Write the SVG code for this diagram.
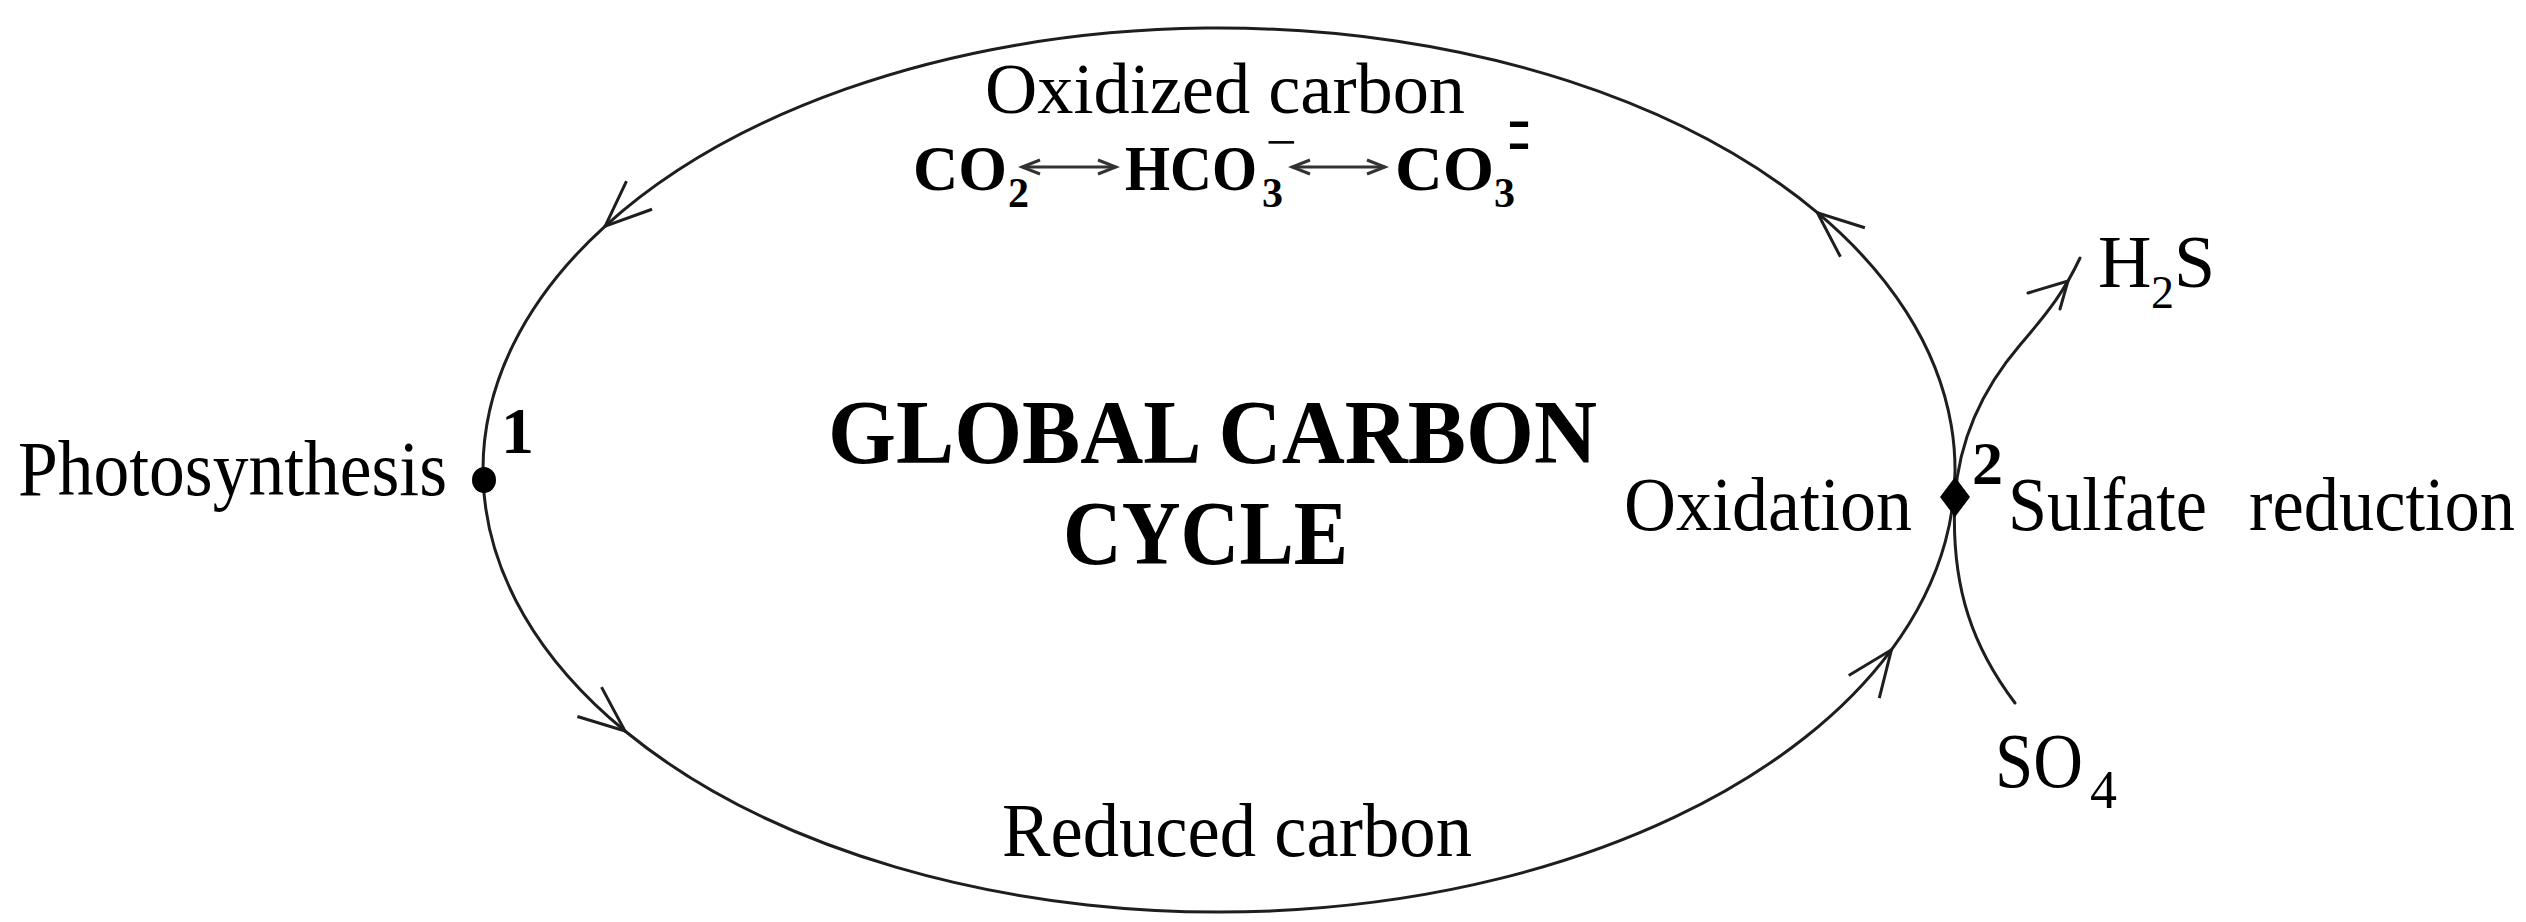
<svg xmlns="http://www.w3.org/2000/svg" width="2526" height="922" viewBox="0 0 2526 922">
<style>
  text { font-family: "Liberation Serif", "Times New Roman", serif; fill: #000; }
  .b { font-weight: bold; }
  .line { fill: none; stroke: #1e1e1e; stroke-width: 3; stroke-linecap: round; }
  .thin { fill: none; stroke: #333; stroke-width: 3; }
  .dot { fill: #000; }
</style>
<defs>
  <marker id="vhead" markerUnits="userSpaceOnUse" viewBox="-52 -26 56 52" markerWidth="56" markerHeight="52" refX="0" refY="0" orient="auto">
    <path d="M -46 -19 L 0 0 L -46 19" fill="none" stroke="#1e1e1e" stroke-width="3"/>
  </marker>
  <marker id="chev" markerUnits="userSpaceOnUse" viewBox="-24 -12 28 24" markerWidth="28" markerHeight="24" refX="0" refY="0" orient="auto-start-reverse">
    <path d="M -18 -7 L 0 0 L -18 7" fill="none" stroke="#333" stroke-width="3"/>
  </marker>
</defs>
<rect width="2526" height="922" fill="#fff"/>

<g id="connectors">
  <path class="line" d="M 1817.4,212.7 A 736 442 0 0 0 605.2,226.1" marker-end="url(#vhead)"/>
  <path class="line" d="M 605.2,226.1 A 736 442 0 0 0 625.0,731.0" marker-end="url(#vhead)"/>
  <path class="line" d="M 625.0,731.0 A 736 442 0 0 0 1891.4,649.8" marker-end="url(#vhead)"/>
  <path class="line" d="M 1891.4,649.8 A 736 442 0 0 0 1817.4,212.7" marker-end="url(#vhead)"/>
  <path class="line" d="M 2015,703 C 1975,650 1950,590 1955,497 C 1960,430 1990,380 2020,345 S 2065,290 2080,258"/>
  <polyline class="line" points="2028,293 2068,281 2060,309"/>
  <line class="thin" x1="1022" y1="167" x2="1116" y2="167" marker-start="url(#chev)" marker-end="url(#chev)"/>
  <line class="thin" x1="1292" y1="167" x2="1385" y2="167" marker-start="url(#chev)" marker-end="url(#chev)"/>
</g>

<g id="oxidized-carbon">
  <text x="985" y="113" font-size="72" textLength="480" lengthAdjust="spacingAndGlyphs">Oxidized carbon</text>
  <text class="b" font-size="64">
    <tspan x="913" y="190" textLength="94" lengthAdjust="spacingAndGlyphs">CO</tspan><tspan x="1008" y="207" font-size="42">2</tspan><tspan x="1125" y="190" textLength="132" lengthAdjust="spacingAndGlyphs">HCO</tspan><tspan x="1262" y="207" font-size="42">3</tspan><tspan x="1266" y="160" font-size="53" font-weight="normal" textLength="31" lengthAdjust="spacingAndGlyphs">−</tspan><tspan x="1395" y="190" textLength="99" lengthAdjust="spacingAndGlyphs">CO</tspan><tspan x="1494" y="207" font-size="42">3</tspan><tspan x="1508" y="172" font-size="110" font-weight="normal" textLength="22" lengthAdjust="spacingAndGlyphs">=</tspan>
  </text>
</g>

<g id="title">
  <text class="b" x="828" y="463" font-size="90" textLength="769" lengthAdjust="spacingAndGlyphs">GLOBAL CARBON</text>
  <text class="b" x="1063" y="564" font-size="90" textLength="285" lengthAdjust="spacingAndGlyphs">CYCLE</text>
</g>

<g id="photosynthesis">
  <ellipse class="dot" cx="484" cy="480" rx="12" ry="13"/>
  <text class="b" x="501" y="453" font-size="66">1</text>
  <text x="18" y="495" font-size="78" textLength="429" lengthAdjust="spacingAndGlyphs">Photosynthesis</text>
</g>

<g id="oxidation-sulfate-reduction">
  <path class="dot" d="M 1955,477 L 1970,497 L 1955,517 L 1940,497 Z"/>
  <text class="b" x="1972" y="484" font-size="62">2</text>
  <text x="1624" y="530" font-size="76" textLength="288" lengthAdjust="spacingAndGlyphs">Oxidation</text>
  <text font-size="76"><tspan x="2008" y="530" textLength="199" lengthAdjust="spacingAndGlyphs">Sulfate</tspan><tspan x="2249" y="530" textLength="266" lengthAdjust="spacingAndGlyphs">reduction</tspan></text>
</g>

<g id="h2s">
  <text font-size="74"><tspan x="2098" y="287">H</tspan><tspan x="2151" y="308" font-size="46">2</tspan><tspan x="2174" y="287">S</tspan></text>
</g>

<g id="so4">
  <text font-size="78"><tspan x="1995" y="787" textLength="88" lengthAdjust="spacingAndGlyphs">SO</tspan><tspan x="2090" y="808" font-size="54">4</tspan></text>
</g>

<g id="reduced-carbon">
  <text x="1002" y="856" font-size="77" textLength="470" lengthAdjust="spacingAndGlyphs">Reduced carbon</text>
</g>
</svg>
